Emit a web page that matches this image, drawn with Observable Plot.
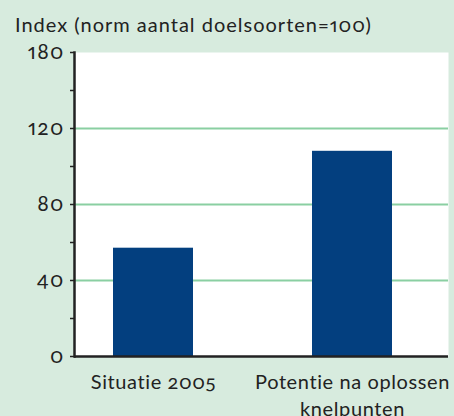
<!DOCTYPE html>
<html>
<head>
<meta charset="utf-8">
<script src="https://cdn.jsdelivr.net/npm/d3@7"></script>
<script src="https://cdn.jsdelivr.net/npm/@observablehq/plot@0.6"></script>
<style>
  html, body { margin: 0; padding: 0; background: #d7ebde; }
  body { width: 454px; height: 416px; overflow: hidden; font-family: Lato, "Open Sans", sans-serif; color: #222; }
  #title { height: 30px; box-sizing: border-box; padding: 13px 0 0 15px; font-size: 20px; line-height: 22px; letter-spacing: 1px; white-space: nowrap; overflow: visible; font-variant-numeric: oldstyle-nums proportional-nums; }
  #chart svg { display: block; }
  #chart svg text { font-size: 20px; letter-spacing: 0.6px; font-variant: normal !important; font-variant-numeric: oldstyle-nums proportional-nums !important; }
  #chart svg g[aria-label="y-axis tick label"] text { font-size: 21px; letter-spacing: 1.2px; }
</style>
</head>
<body>
<div id="title">Index (norm aantal doelsoorten=100)</div>
<div id="chart"></div>
<script>
const categories = ["Situatie 2005", "Potentie na oplossen\nknelpunten"];
const values = [57, 108];
const yTickValues = [0, 40, 80, 120, 160];
const yTickLabels = ["0", "40", "80", "120", "180"];
const yMinorTicks = [20, 60, 100, 140];
const gridValues = [40, 80, 120];

const data = categories.map((c, i) => ({category: c, value: values[i]}));

const chart = Plot.plot({
  width: 454,
  height: 386,
  marginLeft: 74,
  marginRight: 6,
  marginTop: 22,
  marginBottom: 60,
  style: {background: "transparent", fontFamily: "Lato, 'Open Sans', sans-serif", color: "#222"},
  x: {domain: categories, range: [53, 451], paddingInner: 0.6, paddingOuter: 0.3, label: null},
  y: {domain: [0, 160], label: null},
  marks: [
    Plot.frame({fill: "white", stroke: null}),
    Plot.gridY(gridValues, {stroke: "#8acfa2", strokeOpacity: 1, strokeWidth: 2}),
    Plot.barY(data, {x: "category", y: "value", fill: "#033f7f"}),
    Plot.axisY(yTickValues, {tickSize: 4, tickPadding: 6, strokeWidth: 1.5, stroke: "#222", fill: "#222", label: null, tickFormat: (d) => yTickLabels[yTickValues.indexOf(d)]}),
    Plot.axisY(yMinorTicks, {tickSize: 4, strokeWidth: 1.5, stroke: "#222", label: null, tickFormat: () => ""}),
    Plot.frame({anchor: "left", stroke: "#222", strokeWidth: 2.5}),
    Plot.ruleY([0], {stroke: "#222", strokeWidth: 2.5}),
    Plot.axisX({tickSize: 0, tickPadding: 14, fill: "#222", label: null, lineHeight: 1.33})
  ]
});
document.getElementById("chart").appendChild(chart);
</script>
</body>
</html>
